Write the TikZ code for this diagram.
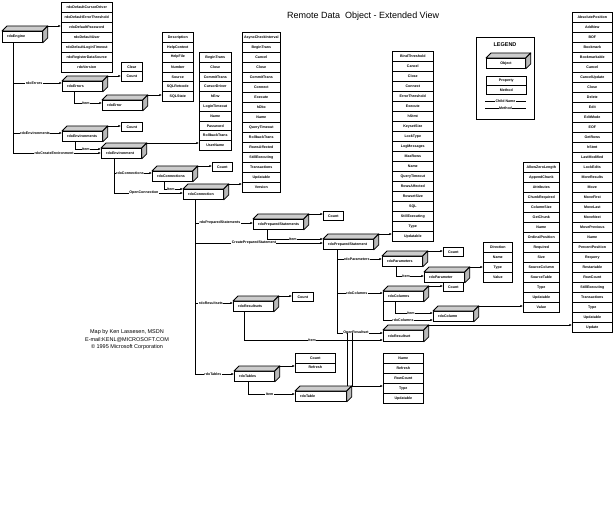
\documentclass[tikz,border=0pt]{standalone}
\usepackage{fontspec}
\setmainfont{Liberation Sans}
\usetikzlibrary{arrows.meta}
\newcommand\sm{\fontsize{3.6}{4.3}\selectfont\bfseries}
\tikzset{
 objfront/.style={draw=black, line width=0.8pt, fill=white, inner sep=0pt, anchor=north west, minimum height=10pt},
 topface/.style={draw=black, line width=0.8pt, fill=gray!40, line join=round},
 sideface/.style={draw=black, line width=0.8pt, fill=gray!55, line join=round},
 prop/.style={draw=black, line width=0.6pt, fill=white, inner sep=0pt, anchor=north west, font=\sm},
 objtext/.style={inner sep=0pt, anchor=west, font=\sm},
 conn/.style={draw=black, line width=0.6pt},
 arr/.style={conn, -{Latex[length=2.6pt,width=2.2pt]}},
 lab/.style={fill=white, inner sep=0.5pt, font=\sm},
}
\newcommand\objbox[6]{%
 \node[objfront, minimum width=#4pt, minimum height=#5pt] (#1) at (#2,#3) {};
 \filldraw[topface] (#1.north west) -- ([xshift=5pt,yshift=5pt]#1.north west) -- ([xshift=5pt,yshift=5pt]#1.north east) -- (#1.north east) -- cycle;
 \filldraw[sideface] (#1.north east) -- ([xshift=5pt,yshift=5pt]#1.north east) -- ([xshift=5pt,yshift=5pt]#1.south east) -- (#1.south east) -- cycle;
 \coordinate (#1-tr) at ([xshift=5pt,yshift=5pt]#1.north east);
 \node[objtext] (#1-t) at ([xshift=5pt]#1.west) {#6};
}
\newcommand\plist[6]{%
 \foreach \itm [count=\i] in {#6} {
  \node[prop, minimum width=#4pt, minimum height=#5pt] (#1-\i) at ({#2},{#3+(\i-1)*#5}) {\itm};
 }
}
\begin{document}
\begin{tikzpicture}[x=1pt,y=-1pt]
\fill[white] (0,0) rectangle (613,513);
\useasboundingbox (0,0) rectangle (613,513);

% title
\node[font=\fontsize{9}{11}\selectfont, anchor=west, inner sep=0pt] (title) at (287,16) {Remote Data\ \ Object - Extended View};

% property lists
\plist{pe}{61}{2}{51}{10}{rdoDefaultCursorDriver,rdoDefaultErrorThreshold,rdoDefaultPassword,rdoDefaultUser,rdoDefaultLoginTimeout,rdoRegisterDataSource,rdoVersion}
\plist{ce}{121}{62}{21}{9.5}{Clear,Count}
\plist{perr}{162}{32}{31}{9.9}{Description,HelpContext,HelpFile,Number,Source,SQLRetcode,SQLState}
\node[prop, minimum width=21pt, minimum height=9pt] (cenvs) at (121,122) {Count};
\plist{penv}{199}{52}{32}{9.8}{BeginTrans,Close,CommitTrans,CursorDriver,hEnv,LoginTimeout,Name,Password,RollbackTrans,UserName}
\node[prop, minimum width=20pt, minimum height=9pt] (cconns) at (212,162) {Count};
\plist{pconn}{242}{32}{38}{10}{AsyncCheckInterval,BeginTrans,Cancel,Close,CommitTrans,Connect,Execute,hDbc,Name,QueryTimeout,RollbackTrans,RowsAffected,StillExecuting,Transactions,Updatable,Version}
\node[prop, minimum width=20pt, minimum height=9pt] (cpreps) at (323,211) {Count};
\plist{pprep}{392}{51}{41}{10}{BindThreshold,Cancel,Close,Connect,ErrorThreshold,Execute,hStmt,KeysetSize,LockType,LogMessages,MaxRows,Name,QueryTimeout,RowsAffected,RowsetSize,SQL,StillExecuting,Type,Updatable}
\node[prop, minimum width=20pt, minimum height=9pt] (cpars) at (443,247) {Count};
\plist{ppar}{483}{242}{29}{10}{Direction,Name,Type,Value}
\node[prop, minimum width=20pt, minimum height=9pt] (ccols) at (443,282) {Count};
\plist{pcol}{523}{162}{36}{10}{AllowZeroLength,AppendChunk,Attributes,ChunkRequired,ColumnSize,GetChunk,Name,OrdinalPosition,Required,Size,SourceColumn,SourceTable,Type,Updatable,Value}
\plist{prs}{572}{12}{40}{10}{AbsolutePosition,AddNew,BOF,Bookmark,Bookmarkable,Cancel,CancelUpdate,Close,Delete,Edit,EditMode,EOF,GetRows,hStmt,LastModified,LockEdits,MoreResults,Move,MoveFirst,MoveLast,MoveNext,MovePrevious,Name,PercentPosition,Requery,Restartable,RowCount,StillExecuting,Transactions,Type,Updatable,Update}
\node[prop, minimum width=21pt, minimum height=9pt] (crss) at (292,292) {Count};
\plist{ptabs}{295}{353}{40}{9.5}{Count,Refresh}
\plist{ptab}{383}{353}{40}{10}{Name,Refresh,RowCount,Type,Updatable}

% objects
\objbox{engine}{2}{31}{40}{11}{rdoEngine}
\objbox{errors}{62}{81}{40}{10}{rdoErrors}
\objbox{error}{102}{100}{40}{10}{rdoError}
\objbox{envs}{62}{131}{40}{10}{rdoEnvironments}
\objbox{env}{101}{148}{40}{10}{rdoEnvironment}
\objbox{conns}{152}{171}{40}{10}{rdoConnections}
\objbox{conn}{183}{189}{40}{10}{rdoConnection}
\objbox{preps}{253}{219}{50}{10}{rdoPreparedStatements}
\objbox{prep}{323}{239}{50}{10}{rdoPreparedStatement}
\objbox{pars}{382}{256}{40}{10}{rdoParameters}
\objbox{par}{424}{272}{40}{10}{rdoParameter}
\objbox{cols}{383}{291}{40}{10}{rdoColumns}
\objbox{col}{433}{311}{40}{10}{rdoColumn}
\objbox{rss}{233}{301}{40}{10}{rdoResultsets}
\objbox{rs}{383}{330}{40}{11}{rdoResultset}
\objbox{tabs}{234}{371}{40}{10}{rdoTables}
\objbox{tab}{295}{391}{51}{10}{rdoTable}

% links to property lists
\draw[arr] (engine-tr) -- (engine-tr -| pe-1.west);
\draw[arr] (errors-tr) -- (errors-tr -| ce-1.west);
\draw[arr] (error-tr) -- (error-tr -| perr-1.west);
\draw[arr] (envs-tr) -- (envs-tr -| cenvs.west);
\draw[arr] (env-tr) -- (env-tr -| penv-1.west);
\draw[arr] (conns-tr) -- (conns-tr -| cconns.west);
\draw[arr] (conn-tr) -- (conn-tr -| pconn-1.west);
\draw[arr] (preps-tr) -- (preps-tr -| cpreps.west);
\draw[arr] (prep-tr) -- (prep-tr -| pprep-1.west);
\draw[arr] (pars-tr) -- (pars-tr -| cpars.west);
\draw[arr] (par-tr) -- (par-tr -| ppar-1.west);
\draw[arr] (cols-tr) -- (cols-tr -| ccols.west);
\draw[arr] (col-tr) -- (col-tr -| pcol-1.west);
\draw[arr] (rss-tr) -- (rss-tr -| crss.west);
\draw[arr] (rs-tr) -- (rs-tr -| prs-1.west);
\draw[arr] (tabs-tr) -- (tabs-tr -| ptabs-1.west);
\draw[arr] (tab-tr) -- (tab-tr -| ptab-1.west);

% rdoEngine children
\coordinate (tE) at ([xshift=11pt]engine.south west);
\coordinate (env-in2) at ([yshift=-5pt]env.north west);
\coordinate (env-in1) at ([yshift=-1pt]env.north west);
\coordinate (errors-in) at ([yshift=-2pt]errors.north west);
\coordinate (envs-in) at ([yshift=-2pt]envs.north west);
\coordinate (error-in) at ([yshift=-3pt]error.north west);
\draw[arr] (tE) |- (env-in2) node[lab,pos=.733]{rdoCreateEnvironment};
\draw[arr] (tE |- errors-in) -- (errors-in) node[lab,pos=.43]{rdoErrors};
\draw[arr] (tE |- envs-in) -- (envs-in) node[lab,pos=.45]{rdoEnvironments};
\draw[arr] ([xshift=12pt]errors.south west) |- (error-in) node[lab,pos=.714]{Item};
\draw[arr] ([xshift=13pt]envs.south west) |- (env-in1) node[lab,pos=.71]{Item};

% rdoEnvironment children
\coordinate (tV) at ([xshift=13pt]env.south west);
\coordinate (conn-in2) at ([yshift=-4pt]conn.north west);
\coordinate (conn-in1) at (conn.north west);
\coordinate (conns-in) at ([yshift=-2pt]conns.north west);
\draw[arr] (tV) |- (conn-in2) node[lab,pos=.717]{OpenConnection};
\draw[arr] (tV |- conns-in) -- (conns-in) node[lab,pos=.42]{rdoConnections};
\draw[arr] ([xshift=12pt]conns.south west) |- (conn-in1) node[lab,pos=.68]{Item};

% rdoConnection children
\coordinate (tC) at ([xshift=12pt]conn.south west);
\coordinate (tabs-in) at ([yshift=-3pt]tabs.north west);
\coordinate (preps-in) at ([yshift=-4pt]preps.north west);
\coordinate (prep-in2) at ([yshift=-4pt]prep.north west);
\coordinate (prep-in1) at (prep.north west);
\coordinate (rss-in) at ([yshift=-2pt]rss.north west);
\draw[arr] (tC) |- (tabs-in) node[lab,pos=.73]{rdoTables};
\draw[arr] (tC |- preps-in) -- (preps-in) node[lab,pos=.43]{rdoPreparedStatements};
\draw[arr] (tC |- prep-in2) -- (prep-in2) node[lab,pos=.46]{CreatePreparedStatement};
\draw[arr] (tC |- rss-in) -- (rss-in) node[lab,pos=.42]{rdoResultsets};
\draw[arr] ([xshift=14pt]preps.south west) |- (prep-in1) node[lab,pos=.73]{Item};

% rdoPreparedStatement children
\coordinate (tP) at ([xshift=14pt]prep.south west);
\coordinate (rs-in1) at ([yshift=-3pt]rs.north west);
\coordinate (rs-in2) at ([yshift=-10pt]rs.north west);
\coordinate (pars-in) at ([yshift=-3pt]pars.north west);
\coordinate (cols-in) at ([yshift=-2pt]cols.north west);
\draw[arr] (tP) |- (rs-in1) node[lab,pos=.706]{OpenResultset};
\draw[arr] (tP |- pars-in) -- (pars-in) node[lab,pos=.44]{rdoParameters};
\draw[arr] (tP |- cols-in) -- (cols-in) node[lab,pos=.43]{rdoColumns};

\coordinate (par-in) at ([yshift=-4pt]par.north west);
\coordinate (col-in1) at ([yshift=-2pt]col.north west);
\coordinate (col-in2) at ([yshift=-9pt]col.north west);
\draw[arr] ([xshift=14pt]pars.south west) |- (par-in) node[lab,pos=.68]{Item};
\draw[arr] ([xshift=12pt]cols.south west) |- (col-in1) node[lab,pos=.71]{Item};
\draw[arr] (cols.south west) |- (col-in2) node[lab,pos=.7]{rdoColumns};
\draw[arr] ([xshift=11pt]rss.south west) |- (rs-in2) node[lab,pos=.745]{Item};
\coordinate (tab-in) at ([yshift=-3pt]tab.north west);
\draw[arr] ([xshift=14pt]tabs.south west) |- (tab-in) node[lab,pos=.73]{Item};
\draw[conn] ([yshift=5pt]tab.north east) -- (tab.north east |- rs-in1);
\draw[conn] (tab-tr) -- (tab-tr |- rs-in1);

% legend
\node[draw, line width=0.6pt, minimum width=58pt, minimum height=82pt, anchor=north west, inner sep=0pt] (legend) at (476,37) {};
\node[font=\fontsize{5.5}{6}\selectfont\bfseries, inner sep=0pt] (legtitle) at (505,45) {LEGEND};
\objbox{legobj}{486}{58}{39}{10}{}
\node[objtext, anchor=center] (legobjtext) at (legobj) {Object};
\plist{leg}{486}{76}{40}{9}{Property,Method}
\coordinate (lc1) at (485,101);
\coordinate (lc2) at (526,101);
\coordinate (lm1) at (485,108);
\coordinate (lm2) at (526,108);
\draw[conn] (lc1) -- (lc2) node[lab,midway]{Child Name};
\draw[conn] (lm1) -- (lm2) node[lab,midway]{Method};

% credits
\node[font=\fontsize{5.5}{7.5}\selectfont, align=center, inner sep=0pt] (credit) at (127,340) {Map by Ken Lassesen, MSDN\\E-mail:KENL@MICROSOFT.COM\\© 1995 Microsoft Corporation};
\end{tikzpicture}
\end{document}
